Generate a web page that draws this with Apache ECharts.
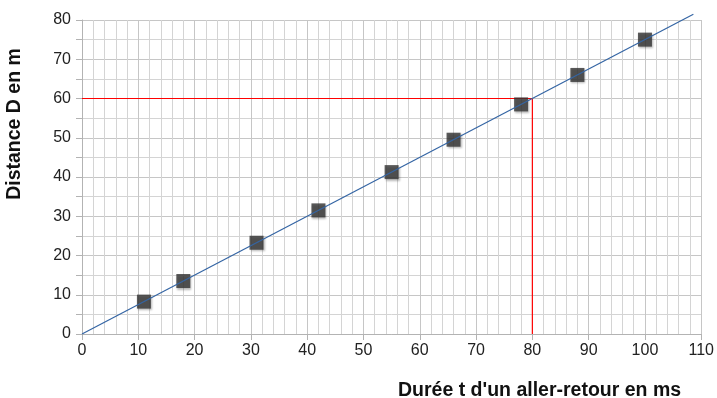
<!DOCTYPE html>
<html>
<head>
<meta charset="utf-8">
<script src="https://cdn.jsdelivr.net/npm/echarts@6/dist/echarts.min.js"></script>
<style>html,body{margin:0;padding:0;background:#fff}#c{width:717px;height:398px}</style>
</head>
<body>
<div id="c"></div>
<script>
// Data
const durations = [11, 18, 31, 42, 55, 66, 78, 88, 100];
const distances = [8.25, 13.5, 23.25, 31.5, 41.25, 49.5, 58.5, 66, 75];
const fitLine = [[0, 0], [108.6, 81.45]];
const readLine = [[0, 60], [80, 60], [80, 0]];
const xTitle = "Durée t d'un aller-retour en ms";
const yTitle = "Distance D en m";

const chart = echarts.init(document.getElementById('c'));
const font = '"Liberation Sans", Arial, sans-serif';
chart.setOption({
  animation: false,
  backgroundColor: '#fff',
  textStyle: { fontFamily: font },
  grid: { left: 82, right: 12, top: 20, bottom: 64, containLabel: false },
  xAxis: {
    type: 'value', min: 0, max: 110, interval: 10,
    axisLine: { show: true, onZero: false, lineStyle: { color: '#b3b3b3', width: 1 } },
    axisTick: { show: true, length: 6, lineStyle: { color: '#b3b3b3' } },
    minorTick: { show: false, splitNumber: 5 },
    axisLabel: { color: '#222', fontSize: 16, fontFamily: font, margin: 9 },
    splitLine: { show: true, lineStyle: { color: '#c6c6c6', width: 1 } },
    minorSplitLine: { show: true, lineStyle: { color: '#d4d4d4', width: 1 } }
  },
  yAxis: {
    type: 'value', min: 0, max: 80, interval: 10,
    axisLine: { show: true, onZero: false, lineStyle: { color: '#b3b3b3', width: 1 } },
    axisTick: { show: true, length: 6, lineStyle: { color: '#b3b3b3' } },
    minorTick: { show: true, splitNumber: 2, length: 6, lineStyle: { color: '#b3b3b3' } },
    axisLabel: { color: '#222', fontSize: 16, fontFamily: font, margin: 11 },
    splitLine: { show: true, lineStyle: { color: '#c6c6c6', width: 1 } },
    minorSplitLine: { show: true, lineStyle: { color: '#d4d4d4', width: 1 } }
  },
  series: [
    {
      type: 'line', data: readLine, symbol: 'none', z: 3,
      lineStyle: { color: '#ff0000', width: 1.2 }
    },
    {
      type: 'scatter', data: durations.map((t, i) => [t, distances[i]]),
      symbol: 'rect', symbolSize: 14, z: 4,
      itemStyle: { color: '#333333', shadowColor: 'rgba(0,0,0,0.35)', shadowBlur: 2, shadowOffsetX: 1, shadowOffsetY: 1.5 }
    },
    {
      type: 'line', data: fitLine, symbol: 'none', clip: false, z: 5,
      lineStyle: { color: '#3465a4', width: 1.2 }
    }
  ],
  graphic: [
    {
      type: 'text', left: 398, top: 381,
      style: { text: xTitle, font: 'bold 19.5px ' + font, fill: '#111' }
    },
    {
      type: 'text', x: 15, y: 124, rotation: Math.PI / 2,
      style: { text: yTitle, font: 'bold 19.5px ' + font, fill: '#111', align: 'center', verticalAlign: 'middle' }
    }
  ]
});
</script>
</body>
</html>
